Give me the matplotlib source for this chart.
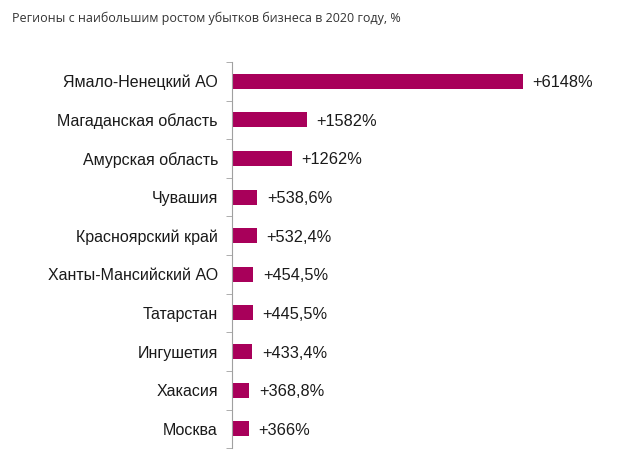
import matplotlib
matplotlib.use("Agg")
import matplotlib.pyplot as plt

regions = ["Ямало-Ненецкий АО", "Магаданская область", "Амурская область", "Чувашия",
           "Красноярский край", "Ханты-Мансийский АО", "Татарстан", "Ингушетия",
           "Хакасия", "Москва"]
growth = [6148, 1582, 1262, 538.6, 532.4, 454.5, 445.5, 433.4, 368.8, 366]
labels = ["+6148%", "+1582%", "+1262%", "+538,6%", "+532,4%", "+454,5%",
          "+445,5%", "+433,4%", "+368,8%", "+366%"]

fig = plt.figure(figsize=(6.2, 4.62), dpi=100)
ax = fig.add_axes([0.374, 0.030, 0.576, 0.836])

y = list(range(len(regions)))[::-1]
ax.barh(y, growth, height=0.39, color="#A8005A")
for yi, v, lab in zip(y, growth, labels):
    ax.text(v + 200, yi, lab, va="center_baseline", ha="left", fontsize=11.8,
            family="Liberation Sans", color="#1a1a1a")

ax.set_xlim(0, 7550)
ax.set_ylim(-0.5, len(regions) - 0.5)
ax.set_yticks(y)
ax.set_yticklabels(regions, fontsize=11.5, family="Liberation Sans", color="#1a1a1a",
                   va="center_baseline")
ax.set_yticks([i - 0.5 for i in range(len(regions) + 1)], minor=True)
ax.tick_params(axis="y", which="major", length=0, pad=10)
ax.tick_params(axis="y", which="minor", length=4, color="#a0a0a0")
ax.set_xticks([])
for s in ["top", "right", "bottom"]:
    ax.spines[s].set_visible(False)
ax.spines["left"].set_color("#a0a0a0")

fig.text(0.019, 0.96, "Регионы с наибольшим ростом убытков бизнеса в 2020 году, %",
         fontsize=9, family="Open Sans", color="#333333", va="center")

fig.savefig("out.png", dpi=100)
